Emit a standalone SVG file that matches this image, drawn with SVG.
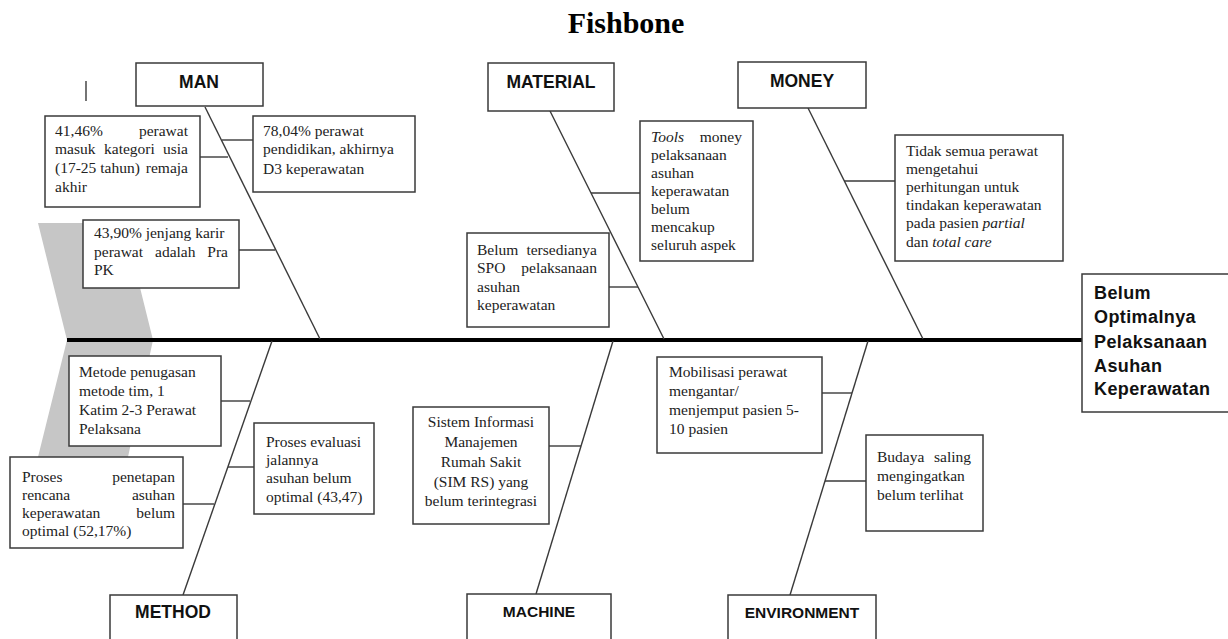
<svg xmlns="http://www.w3.org/2000/svg" width="1228" height="639" viewBox="0 0 1228 639">
<style>
.box{fill:#fff;stroke:#3a3a3a;stroke-width:1.5}
.bone{stroke:#3a3a3a;stroke-width:1.4;fill:none}
.t{font-family:"Liberation Serif","Times New Roman",serif;font-size:15.5px;fill:#222}
.e{text-anchor:end}
.m{text-anchor:middle}
.i{font-style:italic}
.lab{font-family:"Liberation Sans",Arial,sans-serif;font-weight:bold;font-size:17.5px;fill:#111;text-anchor:middle}
.lab2{font-family:"Liberation Sans",Arial,sans-serif;font-weight:bold;font-size:15.5px;fill:#111;text-anchor:middle}
.head{font-family:"Liberation Sans",Arial,sans-serif;font-weight:bold;font-size:18px;fill:#111;letter-spacing:0.4px}
</style>
<rect width="1228" height="639" fill="#fff"/>
<text x="626" y="33" font-family="Liberation Serif,Times New Roman,serif" font-weight="bold" font-size="30" text-anchor="middle" fill="#000">Fishbone</text>
<polygon points="38,223 124,223 153,340 128,457 38,457 67,340" fill="#c6c6c6"/>
<g id="connectors">
<line x1="67" y1="340" x2="1083" y2="340" stroke="#000" stroke-width="4"/>
<line class="bone" x1="86" y1="81" x2="86" y2="101"/>
<line class="bone" x1="205" y1="107" x2="320" y2="339"/>
<line class="bone" x1="200" y1="157" x2="228" y2="157"/>
<line class="bone" x1="222" y1="140" x2="253" y2="140"/>
<line class="bone" x1="239" y1="250" x2="275" y2="250"/>
<line class="bone" x1="550" y1="111" x2="664" y2="339"/>
<line class="bone" x1="591" y1="193" x2="640" y2="193"/>
<line class="bone" x1="609" y1="287" x2="638" y2="287"/>
<line class="bone" x1="808" y1="108" x2="923" y2="339"/>
<line class="bone" x1="844" y1="181" x2="895" y2="181"/>
<line class="bone" x1="272" y1="341" x2="183" y2="595"/>
<line class="bone" x1="221" y1="401" x2="250" y2="401"/>
<line class="bone" x1="183" y1="504" x2="214" y2="504"/>
<line class="bone" x1="228" y1="467" x2="254" y2="467"/>
<line class="bone" x1="613" y1="341" x2="536" y2="594"/>
<line class="bone" x1="549" y1="446" x2="581" y2="446"/>
<line class="bone" x1="868" y1="341" x2="790" y2="595"/>
<line class="bone" x1="822" y1="393" x2="852" y2="393"/>
<line class="bone" x1="825" y1="481" x2="866" y2="481"/>
</g>
<g id="man"><rect class="box" x="136" y="63" width="127" height="43"/><text class="lab" x="199" y="88">MAN</text></g>
<g id="material"><rect class="box" x="488" y="63" width="126" height="48"/><text class="lab" x="551" y="88">MATERIAL</text></g>
<g id="money"><rect class="box" x="738" y="62" width="128" height="46"/><text class="lab" x="802" y="87">MONEY</text></g>
<g id="method"><rect class="box" x="110" y="595" width="127" height="60"/><text class="lab" x="173" y="618">METHOD</text></g>
<g id="machine"><rect class="box" x="467" y="594" width="144" height="60"/><text class="lab2" x="539" y="617">MACHINE</text></g>
<g id="environment"><rect class="box" x="728" y="595" width="148" height="60"/><text class="lab2" x="802" y="618">ENVIRONMENT</text></g>
<g id="effect"><rect class="box" x="1082" y="274" width="150" height="138"/>
<text class="head" x="1094" y="299">Belum</text>
<text class="head" x="1094" y="323">Optimalnya</text>
<text class="head" x="1094" y="348">Pelaksanaan</text>
<text class="head" x="1094" y="372">Asuhan</text>
<text class="head" x="1094" y="395">Keperawatan</text></g>
<g id="cause-usia"><rect class="box" x="45" y="116" width="155" height="91"/>
<text class="t" x="55" y="136">41,46%</text><text class="t e" x="188" y="136">perawat</text>
<text class="t" x="55" y="154">masuk</text><text class="t" x="104" y="154">kategori</text><text class="t e" x="188" y="154">usia</text>
<text class="t" x="55" y="173">(17-25 tahun)</text><text class="t e" x="188" y="173">remaja</text>
<text class="t" x="55" y="192">akhir</text></g>
<g id="cause-pendidikan"><rect class="box" x="253" y="116" width="162" height="76"/>
<text class="t" x="263" y="136">78,04% perawat</text>
<text class="t" x="263" y="154">pendidikan, akhirnya</text>
<text class="t" x="263" y="174">D3 keperawatan</text></g>
<g id="cause-karir"><rect class="box" x="83" y="220" width="156" height="68"/>
<text class="t" x="94" y="238">43,90% jenjang karir</text>
<text class="t" x="94" y="257">perawat</text><text class="t" x="155" y="257">adalah</text><text class="t e" x="228" y="257">Pra</text>
<text class="t" x="94" y="275">PK</text></g>
<g id="cause-tools"><rect class="box" x="640" y="121" width="113" height="140"/>
<text class="t i" x="651" y="142">Tools</text><text class="t e" x="742" y="142">money</text>
<text class="t" x="651" y="160">pelaksanaan</text>
<text class="t" x="651" y="178">asuhan</text>
<text class="t" x="651" y="196">keperawatan</text>
<text class="t" x="651" y="214">belum</text>
<text class="t" x="651" y="232">mencakup</text>
<text class="t" x="651" y="250">seluruh aspek</text></g>
<g id="cause-spo"><rect class="box" x="467" y="233" width="142" height="94"/>
<text class="t" x="477" y="255">Belum</text><text class="t e" x="597" y="255">tersedianya</text>
<text class="t" x="477" y="273">SPO</text><text class="t e" x="597" y="273">pelaksanaan</text>
<text class="t" x="477" y="292">asuhan</text>
<text class="t" x="477" y="310">keperawatan</text></g>
<g id="cause-perhitungan"><rect class="box" x="895" y="135" width="168" height="126"/>
<text class="t" x="906" y="156">Tidak semua perawat</text>
<text class="t" x="906" y="174">mengetahui</text>
<text class="t" x="906" y="192">perhitungan untuk</text>
<text class="t" x="906" y="210">tindakan keperawatan</text>
<text class="t" x="906" y="228">pada pasien <tspan class="i">partial</tspan></text>
<text class="t" x="906" y="247">dan <tspan class="i">total care</tspan></text></g>
<g id="cause-metode"><rect class="box" x="69" y="356" width="152" height="90"/>
<text class="t" x="79" y="377">Metode penugasan</text>
<text class="t" x="79" y="396">metode tim, 1</text>
<text class="t" x="79" y="415">Katim 2-3 Perawat</text>
<text class="t" x="79" y="434">Pelaksana</text></g>
<g id="cause-penetapan"><rect class="box" x="10" y="457" width="173" height="91"/>
<text class="t" x="22" y="482">Proses</text><text class="t e" x="175" y="482">penetapan</text>
<text class="t" x="22" y="500">rencana</text><text class="t e" x="175" y="500">asuhan</text>
<text class="t" x="22" y="518">keperawatan</text><text class="t e" x="175" y="518">belum</text>
<text class="t" x="22" y="536">optimal (52,17%)</text></g>
<g id="cause-evaluasi"><rect class="box" x="254" y="423" width="120" height="91"/>
<text class="t" x="266" y="447">Proses evaluasi</text>
<text class="t" x="266" y="465">jalannya</text>
<text class="t" x="266" y="483">asuhan belum</text>
<text class="t" x="266" y="502">optimal (43,47)</text></g>
<g id="cause-simrs"><rect class="box" x="413" y="407" width="136" height="117"/>
<text class="t m" x="481" y="427">Sistem Informasi</text>
<text class="t m" x="481" y="447">Manajemen</text>
<text class="t m" x="481" y="467">Rumah Sakit</text>
<text class="t m" x="481" y="487">(SIM RS) yang</text>
<text class="t m" x="481" y="506">belum terintegrasi</text></g>
<g id="cause-mobilisasi"><rect class="box" x="657" y="357" width="165" height="96"/>
<text class="t" x="669" y="377">Mobilisasi perawat</text>
<text class="t" x="669" y="396">mengantar/</text>
<text class="t" x="669" y="415">menjemput pasien 5-</text>
<text class="t" x="669" y="434">10 pasien</text></g>
<g id="cause-budaya"><rect class="box" x="866" y="435" width="117" height="96"/>
<text class="t" x="877" y="462">Budaya</text><text class="t e" x="971" y="462">saling</text>
<text class="t" x="877" y="481">mengingatkan</text>
<text class="t" x="877" y="500">belum terlihat</text></g>
</svg>
